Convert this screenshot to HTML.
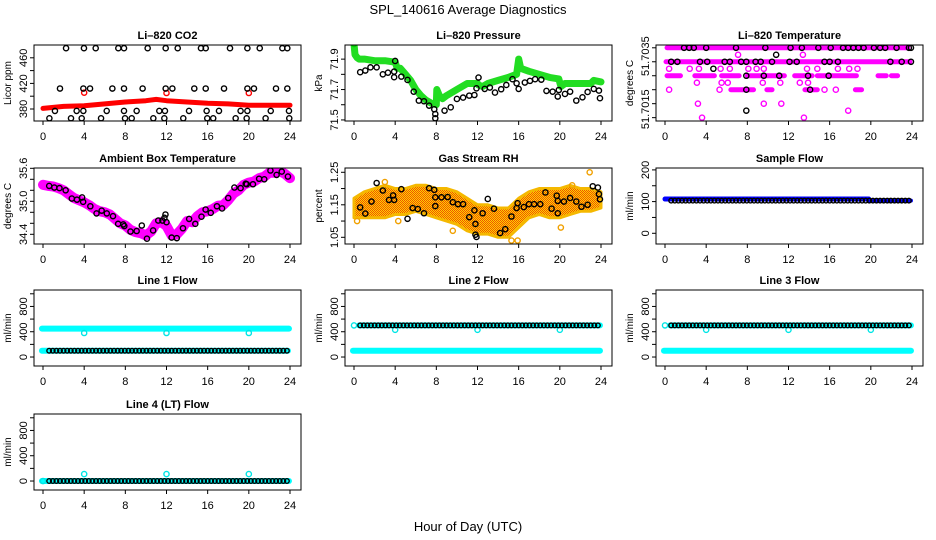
<!DOCTYPE html>
<html><head><meta charset="utf-8">
<style>
html,body{margin:0;padding:0;background:#fff;}
svg{display:block;font-family:"Liberation Sans",sans-serif;}
</style></head>
<body>
<svg id="chart" width="936" height="540" viewBox="0 0 936 540" xmlns="http://www.w3.org/2000/svg">
<defs>
<pattern id="rhpat" width="2" height="2" patternUnits="userSpaceOnUse">
<rect width="2" height="2" fill="#ffd000"/><rect width="1" height="1" fill="#ee5500"/><rect x="1" y="1" width="1" height="1" fill="#ee5500"/>
</pattern>
</defs>
<text x="468" y="14" font-size="13" text-anchor="middle">SPL_140616  Average Diagnostics</text>
<text x="468" y="531" font-size="13" text-anchor="middle">Hour of Day (UTC)</text>
</svg>
<script>
// ---------- data ----------
const hourTicks = [0,4,8,12,16,20,24];
// CO2
const co2TopH = [2.24,3.98,5.12,7.32,7.87,10.17,11.92,13.09,15.35,15.81,18.17,19.86,21.06,23.26,23.74];
const co2TopV = 475;
const co2MidH = [1.65,3.92,4.57,6.74,7.87,9.68,11.92,12.57,14.7,15.81,17.59,19.86,20.5,22.64,23.74];
const co2MidV = 412;
const co2LowH = [1.16,3.27,3.92,6.19,7.87,9.1,11.3,11.85,14.19,15.9,17.1,19.2,19.86,22.13,23.9];
const co2LowV = 377;
const co2BotH = [0.62,2.72,3.76,5.64,7.97,8.62,10.72,11.79,13.63,15.96,16.54,18.72,19.79,21.63,23.93];
const co2BotV = 365.5;
const co2RedH = [0,2,4,6,8,10,11,12,14,16,18,20,22,24];
const co2RedV = [381,384,385,388,391,393,395,393,391,389,388,386,386,386];
const co2RedOutH = [4,12,20];
const co2RedOutV = [405.5,405,405];
// Pressure
const presGreenH = [0,0.1,0.3,0.5,1,2,3,4,4.2,4.5,5,5.5,6,6.5,7,7.5,8,8.05,8.3,8.6,9,10,11,12,12.1,12.5,13,14,15,15.8,16,16.2,16.6,17,18,19,19.9,20.1,20.5,21,22,23,23.3,24];
const presGreenV = [72.0,71.93,71.91,71.9,71.9,71.89,71.89,71.88,71.84,71.84,71.8,71.76,71.7,71.66,71.63,71.61,71.6,71.7,71.66,71.64,71.66,71.7,71.74,71.74,71.73,71.72,71.74,71.76,71.78,71.8,71.9,71.84,71.83,71.82,71.8,71.78,71.77,71.72,71.74,71.74,71.74,71.74,71.76,71.75];
const presBlackH = [0.6,1.1,1.6,2.2,2.8,3.3,3.9,3.9,4,4.6,5.2,5.8,6.3,6.8,7.3,7.8,7.9,7.9,8.8,9.4,10,10.6,11.2,11.7,11.9,12.1,12.7,13.2,13.7,14.3,14.8,15.4,15.8,16,16.6,17.1,17.6,18.2,18.7,19.3,19.8,19.9,20.5,21,21.6,22.2,22.7,23.3,23.8,23.9];
const presBlackV = [71.814,71.825,71.846,71.846,71.8,71.811,71.781,71.818,71.888,71.785,71.763,71.686,71.627,71.623,71.594,71.57,71.539,71.511,71.561,71.583,71.638,71.647,71.66,71.664,71.708,71.779,71.704,71.713,71.68,71.702,71.73,71.768,71.741,71.704,71.746,71.757,71.768,71.765,71.691,71.686,71.654,71.697,71.671,71.686,71.627,71.649,71.684,71.704,71.693,71.643];
// Temperature (magenta dense segments per level)
const tempSegLevels = [51.7035,51.703,51.7025,51.702];
const tempSegs = [[[0.2,23.6]],[[0.1,23.8]],[[0.2,1.5],[2.9,4.8],[5.5,7.2],[8,11.6],[12.6,14.3],[14.8,18.6],[20.7,21.5],[22,22.6]],[[6.4,8.6],[9.9,10.4],[13.6,14.8],[18.5,19.1]]];
const tempMagH = [7.1,13.4, 0.4,2.4,3.3,5.4,6.3,8.1,8.9,9.6,13.8,14.8,16.8,17.9,18.7, 3.1,5.5,6.1,9.5,11.2,13.1,13.9, 0.4,5.3,15.5,16.6, 3.2,9.6,11.3, 17.8, 3.6,13.5];
const tempMagV = [51.70325,51.70325, 51.70275,51.70275,51.70275,51.70275,51.70275,51.70275,51.70275,51.70275,51.70275,51.70275,51.70275,51.70275,51.70275, 51.70225,51.70225,51.70225,51.70225,51.70225,51.70225,51.70225, 51.702,51.702,51.702,51.702, 51.7015,51.7015,51.7015, 51.70125, 51.701,51.701];
const tempBlackH = [1.85,2.35,2.8,4.0,6.9,9.75,12.2,13.3,14.9,16.1,17.3,17.8,18.3,18.8,19.3,20.3,20.9,21.4,22.5,23.7,23.9, 0.6,1.2,3.4,4.1,5.8,6.3,7.4,7.9,8.8,9.3,10.4,12.1,12.8,15.5,16.0,16.8,21.9,23.0,23.9, 7.9,9.6,11.1,13.9,15.9, 10.8,4.7,7.9,14.1,7.9];
const tempBlackV = [51.7035,51.7035,51.7035,51.7035,51.7035,51.7035,51.7035,51.7035,51.7035,51.7035,51.7035,51.7035,51.7035,51.7035,51.7035,51.7035,51.7035,51.7035,51.7035,51.7035,51.7035, 51.703,51.703,51.703,51.703,51.703,51.703,51.703,51.703,51.703,51.703,51.703,51.703,51.703,51.703,51.703,51.703,51.703,51.703,51.703, 51.7025,51.7025,51.7025,51.7025,51.7025, 51.70325,51.70275,51.702,51.702,51.70125];
// Ambient box temperature
const ambMagH = [0,0.5,1,1.5,2,2.5,3,3.5,4,4.5,5,5.5,6,6.5,7,7.5,8,8.5,9,9.5,10,10.5,11,11.5,12,12.5,13,13.5,14,14.5,15,15.5,16,16.5,17,17.5,18,18.5,19,19.5,20,20.5,21,21.5,22,22.5,23,23.5,24];
const ambMagV = [35.3,35.28,35.27,35.24,35.2,35.13,35.06,35.02,34.98,34.93,34.86,34.82,34.8,34.76,34.68,34.6,34.56,34.48,34.44,34.42,34.38,34.45,34.6,34.62,34.55,34.38,34.4,34.5,34.64,34.62,34.73,34.8,34.82,34.86,34.92,34.93,35.02,35.14,35.2,35.3,35.34,35.36,35.42,35.45,35.52,35.52,35.55,35.5,35.42];
const ambBlackH = [0.6,1.1,1.6,2.2,2.8,3.3,3.8,3.9,4.6,5.2,5.7,6.2,6.8,7.3,7.8,7.9,8.5,9.1,9.6,10.1,10.7,11.2,11.6,11.8,11.9,12,12.5,13,13.6,14.2,14.8,15.4,15.8,16.3,16.9,17.4,18,18.6,19.2,19.7,19.8,20.4,21,21.5,22.1,22.7,23.2,23.8];
const ambBlackV = [35.28,35.25,35.24,35.2,35.05,35.03,35.07,34.99,34.91,34.78,34.83,34.78,34.73,34.59,34.58,34.55,34.45,34.46,34.56,34.32,34.47,34.65,34.65,34.7,34.76,34.62,34.34,34.33,34.51,34.68,34.59,34.72,34.85,34.79,34.91,34.87,35.06,35.25,35.24,35.32,35.31,35.31,35.41,35.4,35.56,35.48,35.54,35.45];
// Gas stream RH
const rhBandH = [0,1,2,3,4,5,6,7,8,9,10,11,12,13,14,15,16,17,18,19,20,21,22,23,24];
const rhBandHi = [1.17,1.19,1.2,1.21,1.2,1.2,1.21,1.21,1.2,1.2,1.19,1.17,1.15,1.15,1.14,1.14,1.17,1.19,1.2,1.2,1.2,1.21,1.2,1.2,1.19];
const rhBandLo = [1.11,1.11,1.11,1.11,1.12,1.12,1.13,1.12,1.11,1.1,1.09,1.07,1.06,1.06,1.05,1.05,1.08,1.11,1.12,1.11,1.11,1.12,1.13,1.13,1.14];
const rhOutH = [22.9,15.3,15.9,3.0,9.6,0.3,21.2,20.1,4.3];
const rhOutV = [1.25,1.04,1.04,1.22,1.07,1.1,1.21,1.08,1.1];
const rhBlackH = [0.6,1.1,1.7,2.2,2.8,3.4,3.8,3.9,4.6,5.2,5.7,6.2,6.8,7.3,7.8,7.9,7.9,8.5,9.1,9.6,10.1,10.6,11.2,11.7,11.8,11.8,11.9,12.5,13,13.6,14.2,14.7,15.3,15.8,15.9,16.5,17,17.5,18.1,18.6,19.2,19.7,19.8,19.8,20.4,21,21.6,22.1,22.7,23.2,23.7,23.8,23.9];
const rhBlackV = [1.142,1.123,1.16,1.217,1.194,1.165,1.179,1.165,1.198,1.107,1.14,1.137,1.124,1.201,1.196,1.173,1.146,1.173,1.174,1.158,1.152,1.152,1.112,1.133,1.091,1.058,1.051,1.124,1.168,1.138,1.063,1.075,1.114,1.14,1.155,1.143,1.152,1.152,1.152,1.188,1.138,1.178,1.162,1.124,1.16,1.171,1.16,1.144,1.15,1.207,1.203,1.183,1.167];
// Flows
const flowTimes = [0.6,0.95,1.3,1.65,2.0,2.35,2.7,3.05,3.4,3.75,4.1,4.45,4.8,5.15,5.5,5.85,6.2,6.55,6.9,7.25,7.6,7.95,8.3,8.65,9.0,9.35,9.7,10.05,10.4,10.75,11.1,11.45,11.8,12.15,12.5,12.85,13.2,13.55,13.9,14.25,14.6,14.95,15.3,15.65,16.0,16.35,16.7,17.05,17.4,17.75,18.1,18.45,18.8,19.15,19.5,19.85,20.2,20.55,20.9,21.25,21.6,21.95,22.3,22.65,23.0,23.35,23.7];
const sampleBlue = [108, 103];
const sampleBlack = [103];
const line1Cyan = [450, 100];
const line1Dips = [380, 380, 380];
const line1Black = [100];
const line2Cyan = [100];
const line2Black = [500];
const line2Dips = [500, 430, 430, 430];
const line3Cyan = [100];
const line3Black = [500];
const line3Dips = [500, 430, 430, 430];
const line4Cyan = [0];
const line4Black = [0];
const line4Dips = [0, 110, 110, 110];
const dipHours = [4, 12, 20];
const dipHoursWithStart = [0, 4, 12, 20];

// ---------- drawing ----------
const NS = 'http://www.w3.org/2000/svg';
const svg = document.getElementById('chart');
function mk(tag, attrs, name, parent) {
  const el = document.createElementNS(NS, tag);
  for (const k in attrs) el.setAttribute(k, attrs[k]);
  
  
  (parent || svg).appendChild(el);
  return el;
}
const colL = [34, 345, 656], rowT = [45, 168, 290, 414], PW = 267, PH = 76;
const X0 = -0.875, X1 = 25.07;

function panel(c, r, y0, y1, title, ylab, ticks, labels, labelText) {
  const L = colL[c], T = rowT[r], B = T + PH, R = L + PW;
  const g = mk('g', {}, 'panel-' + title.toLowerCase().replace(/[^a-z0-9]+/g, '-'));
  const sx = h => L + (h - X0) / (X1 - X0) * PW;
  const sy = v => B - (v - y0) / (y1 - y0) * PH;
  mk('text', {x: L + PW / 2, y: T - 6, 'font-size': 11, 'font-weight': 'bold', 'text-anchor': 'middle'}, 'panel-title', g).textContent = title;
  const yt = mk('text', {transform: 'translate(' + (L - 23) + ',' + (T + PH / 2) + ') rotate(-90)', 'font-size': 10, 'text-anchor': 'middle'}, 'y-axis-title', g);
  yt.textContent = ylab;
  hourTicks.forEach(h => {
    mk('line', {x1: sx(h), x2: sx(h), y1: B, y2: B + 4, stroke: '#000'}, 'x-tick', g);
    mk('text', {x: sx(h), y: B + 19, 'font-size': 11, 'text-anchor': 'middle'}, 'x-tick-label', g).textContent = h;
  });
  ticks.forEach(v => {
    mk('line', {x1: L - 4, x2: L, y1: sy(v), y2: sy(v), stroke: '#000'}, 'y-tick', g);
  });
  labels.forEach((v, i) => {
    const t = mk('text', {transform: 'translate(' + (L - 7) + ',' + sy(v) + ') rotate(-90)', 'font-size': 11, 'text-anchor': 'middle'}, 'y-tick-label', g);
    t.textContent = labelText ? labelText[i] : v;
  });
  const clip = mk('clipPath', {id: 'clip' + c + r}, 'clip', g);
  mk('rect', {x: L, y: T, width: PW, height: PH}, 'clip-rect', clip);
  const data = mk('g', {'clip-path': 'url(#clip' + c + r + ')'}, 'plot-area', g);
  mk('rect', {x: L, y: T, width: PW, height: PH, fill: 'none', stroke: '#000', 'stroke-width': 1}, 'plot-box', g);
  return {sx, sy, g: data};
}
function pts(p, hs, vs, color, name, r) {
  hs.forEach((h, i) => {
    const v = Array.isArray(vs) ? vs[i] : vs;
    mk('circle', {cx: p.sx(h), cy: p.sy(v), r: r || 2.6, fill: 'none', stroke: color, 'stroke-width': 1.4}, name, p.g);
  });
}
function band(p, hs, vs, color, w, name) {
  const d = hs.map((h, i) => p.sx(h).toFixed(1) + ',' + p.sy(vs[i]).toFixed(1)).join(' ');
  mk('polyline', {points: d, fill: 'none', stroke: color, 'stroke-width': w, 'stroke-linecap': 'round', 'stroke-linejoin': 'round'}, name, p.g);
}
function seg(p, a, b, v, color, w, name) {
  mk('line', {x1: p.sx(a), x2: p.sx(b), y1: p.sy(v), y2: p.sy(v), stroke: color, 'stroke-width': w, 'stroke-linecap': 'round'}, name, p.g);
}

// Panel 1: CO2
let p = panel(0, 0, 361.25, 480, 'Li\u2013820 CO2', 'Licor ppm', [380,400,420,440,460], [380,420,460]);
band(p, co2RedH, co2RedV, '#ff0000', 5, 'co2-red-series');
pts(p, co2RedOutH, co2RedOutV, '#ff0000', 'co2-red-point');
pts(p, co2TopH, co2TopV, '#000', 'co2-black-point');
pts(p, co2MidH, co2MidV, '#000', 'co2-black-point');
pts(p, co2LowH, co2LowV, '#000', 'co2-black-point');
pts(p, co2BotH, co2BotV, '#000', 'co2-black-point');

// Panel 2: Pressure
p = panel(1, 0, 71.493, 71.993, 'Li\u2013820 Pressure', 'kPa', [71.5,71.6,71.7,71.8,71.9], [71.5,71.7,71.9]);
band(p, presGreenH, presGreenV, '#22dd22', 7, 'pressure-green-series');
pts(p, [presGreenH[0]], [presGreenV[0]], '#00cc00', 'pressure-green-point');
pts(p, presBlackH, presBlackV, '#000', 'pressure-black-point');

// Panel 3: Temperature
p = panel(2, 0, 51.70088, 51.7036, 'Li\u2013820 Temperature', 'degrees C', [51.701,51.7015,51.702,51.7025,51.703,51.7035], [51.7032,51.7013], ['51.7035','51.7015']);
tempSegs.forEach((s, i) => s.forEach(ab => seg(p, ab[0], ab[1], tempSegLevels[i], '#ff00ff', 5, 'temp-magenta-band')));
pts(p, tempMagH, tempMagV, '#ff00ff', 'temp-magenta-point');
pts(p, tempBlackH, tempBlackV, '#000', 'temp-black-point');

// Panel 4: Ambient
p = panel(0, 1, 34.2236, 35.6055, 'Ambient Box Temperature', 'degrees C', [34.4,34.6,34.8,35.0,35.2,35.4,35.6], [34.4,35.0,35.6], ['34.4','35.0','35.6']);
band(p, ambMagH, ambMagV, '#ff00ff', 10, 'ambient-magenta-series');
pts(p, ambBlackH, ambBlackV, '#000', 'ambient-black-point');

// Panel 5: RH
p = panel(1, 1, 1.0294, 1.2632, 'Gas Stream RH', 'percent', [1.05,1.1,1.15,1.2,1.25], [1.05,1.15,1.25]);
{
  const up = rhBandH.map((h, i) => p.sx(h).toFixed(1) + ',' + p.sy(rhBandHi[i]).toFixed(1));
  const dn = rhBandH.map((h, i) => p.sx(h).toFixed(1) + ',' + p.sy(rhBandLo[i]).toFixed(1)).reverse();
  mk('polygon', {points: up.concat(dn).join(' '), fill: 'url(#rhpat)', stroke: '#f5b800', 'stroke-width': 3, 'stroke-linejoin': 'round'}, 'rh-orange-band', p.g);
}
pts(p, rhOutH, rhOutV, '#f0a000', 'rh-orange-point');
pts(p, rhBlackH, rhBlackV, '#000', 'rh-black-point');

// Panel 6: Sample flow
p = panel(2, 1, -33.8, 206, 'Sample Flow', 'ml/min', [0,50,100,150,200], [0,100,200]);
seg(p, 0, 19.8, sampleBlue[0], '#0000ff', 5, 'sample-blue-band');
seg(p, 19.8, 23.9, sampleBlue[1], '#0000ff', 4, 'sample-blue-band');
pts(p, flowTimes, sampleBlack[0], '#000', 'sample-black-point', 2.3);

// Flow panels
const fTicks = [0,200,400,600,800,1000], fLab = [0,400,800];
p = panel(0, 2, -142, 1060, 'Line 1 Flow', 'ml/min', fTicks, fLab);
seg(p, -0.1, 23.9, line1Cyan[0], '#00ffff', 6, 'line1-cyan-band');
seg(p, -0.1, 23.8, line1Cyan[1], '#00ffff', 6, 'line1-cyan-band');
pts(p, dipHours, line1Dips, '#00e5e5', 'line1-cyan-point');
pts(p, flowTimes, line1Black[0], '#000', 'line1-black-point', 2.3);

p = panel(1, 2, -142, 1060, 'Line 2 Flow', 'ml/min', fTicks, fLab);
seg(p, -0.1, 23.9, line2Cyan[0], '#00ffff', 6, 'line2-cyan-band');
seg(p, 0.5, 23.9, line2Black[0], '#00ffff', 6, 'line2-cyan-band');
pts(p, dipHoursWithStart, line2Dips, '#00e5e5', 'line2-cyan-point');
pts(p, flowTimes, line2Black[0], '#000', 'line2-black-point', 2.3);

p = panel(2, 2, -142, 1060, 'Line 3 Flow', 'ml/min', fTicks, fLab);
seg(p, -0.1, 23.9, line3Cyan[0], '#00ffff', 6, 'line3-cyan-band');
seg(p, 0.5, 23.9, line3Black[0], '#00ffff', 6, 'line3-cyan-band');
pts(p, dipHoursWithStart, line3Dips, '#00e5e5', 'line3-cyan-point');
pts(p, flowTimes, line3Black[0], '#000', 'line3-black-point', 2.3);

p = panel(0, 3, -142, 1060, 'Line 4 (LT) Flow', 'ml/min', fTicks, fLab);
seg(p, -0.1, 23.9, line4Cyan[0], '#00ffff', 6, 'line4-cyan-band');
pts(p, dipHoursWithStart, line4Dips, '#00e5e5', 'line4-cyan-point');
pts(p, flowTimes, line4Black[0], '#000', 'line4-black-point', 2.3);
</script>
</body></html>
